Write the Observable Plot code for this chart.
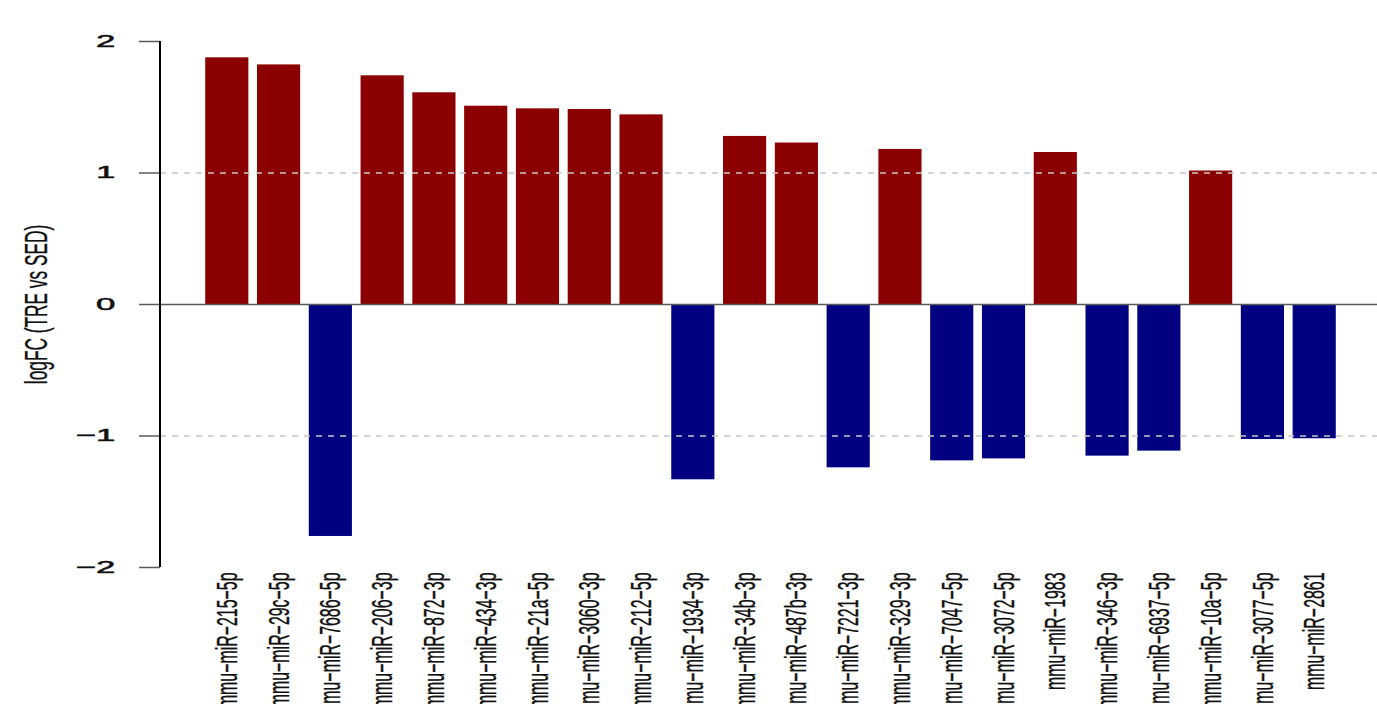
<!DOCTYPE html>
<html><head><meta charset="utf-8">
<script src="https://cdn.jsdelivr.net/npm/d3@7"></script>
<script src="https://cdn.jsdelivr.net/npm/@observablehq/plot@0.6"></script>
<style>html,body{margin:0;padding:0;background:#fff;overflow:hidden}#chart svg{display:block}</style>
</head><body><div id="chart"></div>
<script>
const mirnas = ["mmu-miR-215-5p","mmu-miR-29c-5p","mmu-miR-7686-5p","mmu-miR-206-3p","mmu-miR-872-3p","mmu-miR-434-3p","mmu-miR-21a-5p","mmu-miR-3060-3p","mmu-miR-212-5p","mmu-miR-1934-3p","mmu-miR-34b-3p","mmu-miR-487b-3p","mmu-miR-7221-3p","mmu-miR-329-3p","mmu-miR-7047-5p","mmu-miR-3072-5p","mmu-miR-1983","mmu-miR-346-3p","mmu-miR-6937-5p","mmu-miR-10a-5p","mmu-miR-3077-5p","mmu-miR-2861"];
const logFC = [1.876,1.822,-1.764,1.739,1.610,1.508,1.488,1.483,1.442,-1.333,1.278,1.228,-1.242,1.179,-1.189,-1.174,1.156,-1.153,-1.115,1.015,-1.027,-1.021];
const yTicks = [-2,-1,0,1,2];
const gridLines = [-1,1];
const upColor = "#8B0000";
const downColor = "#000080";
const yLabel = "logFC (TRE vs SED)";

const rows = mirnas.map((m,i)=>({mirna:m, logFC:logFC[i], color: logFC[i] > 0 ? upColor : downColor}));

const plot = Plot.plot({
  width:1377, height:704,
  marginTop:41, marginBottom:137, marginLeft:160, marginRight:0,
  style:{fontFamily:"'Liberation Sans', Arial, sans-serif", background:"#fff", overflow:"visible"},
  x:{domain:mirnas, range:[160,1381], paddingInner:0.1667, paddingOuter:0.8733, round:false},
  y:{domain:[-2,2]},
  color:{type:"identity"},
  marks:[
    Plot.barY(rows,{x:"mirna", y:"logFC", fill:"color"}),
    Plot.ruleY(gridLines,{stroke:"#c8c8c8", strokeWidth:1.5, strokeDasharray:"6,6"}),
    Plot.ruleY([0],{stroke:"#5a5a5a", strokeWidth:1.5}),
    Plot.axisY({ticks:yTicks, tickSize:21, tickPadding:24, stroke:"#5a5a5a", strokeWidth:1.5, fill:"#111", fontSize:17, label:null, tickFormat:d => d < 0 ? "\u2212" + Math.abs(d) : String(d)}),
    Plot.axisX({tickSize:0, tickPadding:5, tickRotate:-90, fontSize:30, fill:"#111", label:null, tickFormat:s => s.replace(/-/g,"\u2212")}),
    Plot.text([yLabel],{text:d=>d, frameAnchor:"left", textAnchor:"middle", dx:-124, rotate:-90, fontSize:32, fill:"#111"})
  ]
});
document.getElementById("chart").append(plot);

// squeeze/stretch text along its own direction, about its anchor point
function squeeze(sel, k, sw){
  plot.querySelectorAll(sel).forEach(t => {
    const ax = parseFloat(t.getAttribute("x")) || 0;
    const tr = t.getAttribute("transform") || "";
    t.setAttribute("transform", `${tr} translate(${ax},0) scale(${k},1) translate(${-ax},0)`.trim());
    if (sw) { t.setAttribute("stroke", "#111"); t.setAttribute("stroke-width", sw); }
  });
}
squeeze('g[aria-label="x-axis tick label"] text', 0.53, 0.35);
squeeze('g[aria-label="y-axis tick label"] text', 2.05, 0.5);
squeeze('g[aria-label="text"] text', 0.54, 0.3);

const ys = plot.scale("y"), xs = plot.scale("x");
d3.select(plot).append("line")
  .attr("x1", xs.range[0]).attr("x2", xs.range[0])
  .attr("y1", ys.apply(2)).attr("y2", ys.apply(-2))
  .attr("stroke","#000").attr("stroke-width",2);
</script>
</body></html>
